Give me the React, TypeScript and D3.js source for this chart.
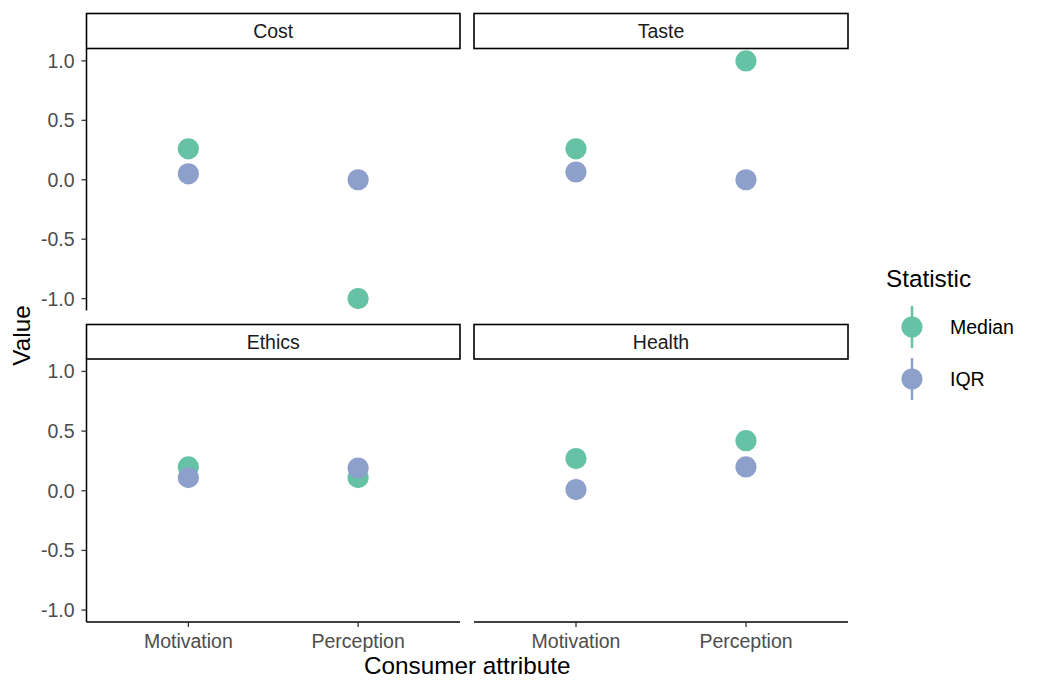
import React from 'react';
import * as d3 from 'd3';

// facet order (row-wise, like facet_wrap)
const facets = ['Cost', 'Taste', 'Ethics', 'Health'];
const attributes = ['Motivation', 'Perception'];
const statistics = ['Median', 'IQR'];

// values per facet, in attribute order
const medianValues = [
  [0.26, -1.0],
  [0.26, 1.0],
  [0.2, 0.11],
  [0.27, 0.42],
];
const iqrValues = [
  [0.05, 0.0],
  [0.065, 0.0],
  [0.11, 0.19],
  [0.01, 0.2],
];
const yTicks = [-1.0, -0.5, 0.0, 0.5, 1.0];

const W = 1039;
const H = 692;
const FONT = '"Liberation Sans", Arial, sans-serif';
const SMALL = 19.5;
const BIG = 24.3;

const colX = [[86.5, 460], [474, 848]];
const rowY = [
  {strip: [13.5, 48.5], panel: [49, 310.5]},
  {strip: [324.5, 359], panel: [359.5, 622]},
];

const color = d3.scaleOrdinal<string, string>().domain(statistics).range(['#66c2a5', '#8da0cb']);
const fmt = (v: number) => d3.format('.1f')(v).replace('\u2212', '-');

const App: React.FC = () => {
  const series = [medianValues, iqrValues];

  return (
    <svg width={W} height={H} style={{position: 'absolute', left: 0, top: 0, display: 'block', background: '#fff'}}
         fontFamily={FONT}>
      {facets.map((facet, fi) => {
        const col = fi % 2;
        const row = Math.floor(fi / 2);
        const [x0, x1] = colX[col];
        const {strip, panel} = rowY[row];
        const x = d3.scalePoint<string>().domain(attributes).range([x0, x1]).padding(0.6);
        const y = d3.scaleLinear().domain([-1.1, 1.1]).range([panel[1], panel[0]]);
        return (
          <g key={facet}>
            {/* strip */}
            <rect x={x0} y={strip[0]} width={x1 - x0} height={strip[1] - strip[0]}
                  fill="#fff" stroke="#000" strokeWidth={1.6}/>
            <text x={(x0 + x1) / 2} y={(strip[0] + strip[1]) / 2 + 7} textAnchor="middle"
                  fontSize={SMALL} fill="#1a1a1a">{facet}</text>

            {/* left axis only in first column */}
            {col === 0 && (
              <g>
                <line x1={x0} x2={x0} y1={panel[0]} y2={panel[1]} stroke="#000" strokeWidth={1.5}/>
                {yTicks.map(t => (
                  <g key={t}>
                    <line x1={x0 - 5} x2={x0} y1={y(t)} y2={y(t)} stroke="#333" strokeWidth={1.3}/>
                    <text x={x0 - 12} y={y(t) + 7} textAnchor="end" fontSize={SMALL} fill="#4d4d4d">
                      {fmt(t)}
                    </text>
                  </g>
                ))}
              </g>
            )}

            {/* bottom axis only in last row */}
            {row === 1 && (
              <g>
                <line x1={x0} x2={x1} y1={panel[1]} y2={panel[1]} stroke="#000" strokeWidth={1.5}/>
                {attributes.map(a => (
                  <g key={a}>
                    <line x1={x(a)} x2={x(a)} y1={panel[1]} y2={panel[1] + 5} stroke="#333" strokeWidth={1.3}/>
                    <text x={x(a)} y={panel[1] + 26} textAnchor="middle" fontSize={SMALL} fill="#4d4d4d">{a}</text>
                  </g>
                ))}
              </g>
            )}

            {/* points: median first, IQR on top */}
            {series.map((s, si) => attributes.map((a, ai) => (
              <circle key={si + a} cx={x(a)} cy={y(s[fi][ai])} r={10.6} fill={color(statistics[si])}/>
            )))}
          </g>
        );
      })}

      {/* axis titles */}
      <text x={(colX[0][0] + colX[1][1]) / 2} y={674} textAnchor="middle" fontSize={BIG} fill="#000">
        Consumer attribute
      </text>
      <text transform={`translate(30,${(rowY[0].panel[0] + rowY[1].panel[1]) / 2}) rotate(-90)`}
            textAnchor="middle" fontSize={BIG} fill="#000">Value</text>

      {/* legend */}
      <text x={886} y={287} fontSize={BIG} fill="#000">Statistic</text>
      {statistics.map((s, i) => {
        const cy = 327 + i * 52;
        return (
          <g key={s}>
            <line x1={912} x2={912} y1={cy - 21} y2={cy + 21} stroke={color(s)} strokeWidth={2.5}/>
            <circle cx={912} cy={cy} r={10.6} fill={color(s)}/>
            <text x={950} y={cy + 7} fontSize={SMALL} fill="#000">{s}</text>
          </g>
        );
      })}
    </svg>
  );
};

export default App;
